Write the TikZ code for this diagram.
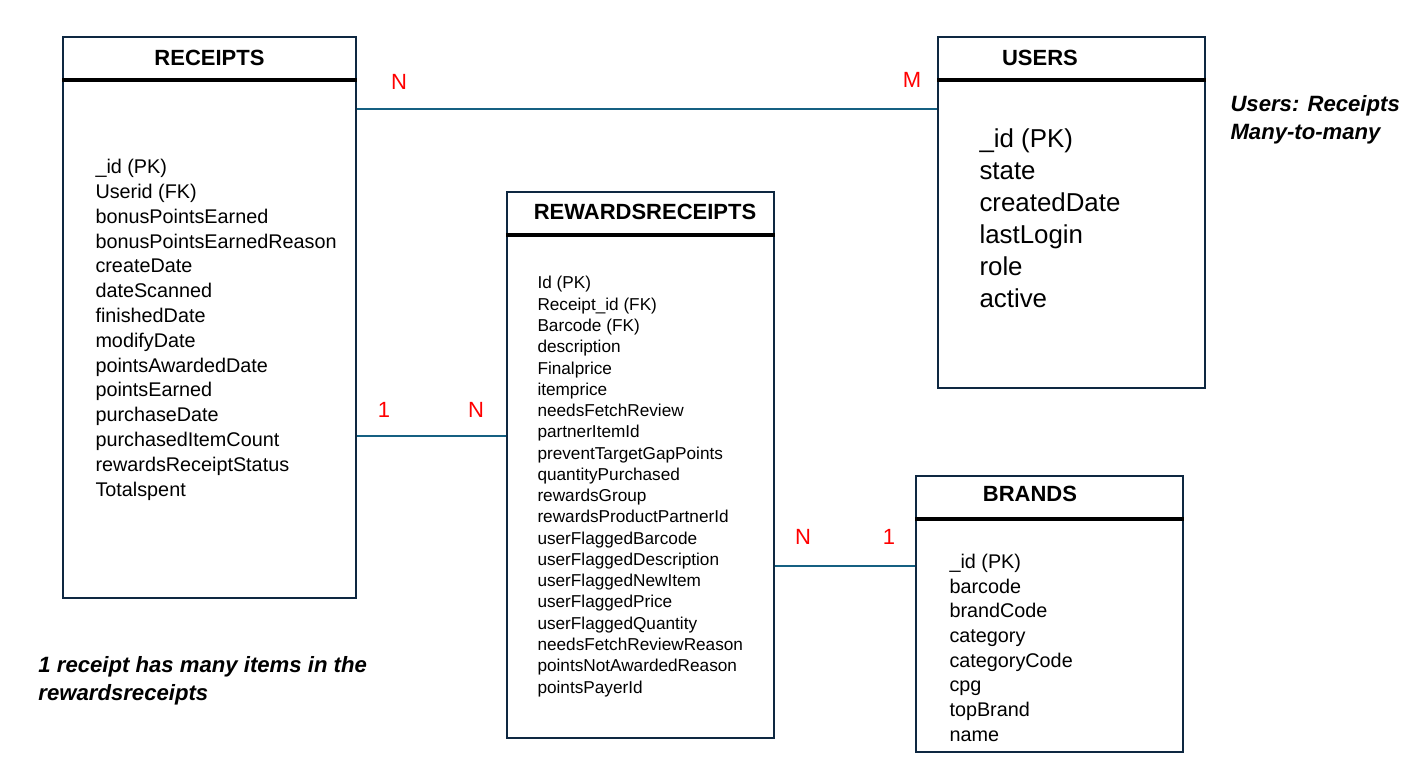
\documentclass[tikz,border=0pt]{standalone}
\usepackage{fontspec}
\setmainfont{Liberation Sans}
\usetikzlibrary{fit}
\definecolor{boxline}{HTML}{0E2841}
\definecolor{relline}{HTML}{156082}
\tikzset{every picture/.style={line width=0.75pt}}
\tikzset{
  entity/.style={draw=boxline, line width=1.5pt, inner sep=0pt},
  headline/.style={line width=3pt, black},
  relation/.style={draw=relline, line width=1.1pt},
  card/.style={text=red, inner sep=0pt, font=\fontsize{16.5}{19}\selectfont},
  title/.style={inner sep=0pt, font=\fontsize{16.5}{19}\selectfont\bfseries},
  fields/.style={anchor=base west, inner sep=0pt, align=left},
  remark/.style={anchor=base west, inner sep=0pt, align=left, font=\fontsize{16.6}{20.5}\selectfont\bfseries\itshape}
}

\begin{document}
\begin{tikzpicture}[x=0.75pt,y=0.75pt,yscale=-1,xscale=1]
\useasboundingbox (0,0) rectangle (1404,760);

% tables
\node [entity, fit={(63,37) (356,598)}] (receipts) {};
\node [entity, fit={(938,37) (1205,388)}] (users) {};
\node [entity, fit={(507,192) (774,738)}] (rewards) {};
\node [entity, fit={(916,476) (1183,752)}] (brands) {};

\draw [headline] (receipts.west |- 0,80) -- (receipts.east |- 0,80) ;
\draw [headline] (users.west |- 0,80) -- (users.east |- 0,80) ;
\draw [headline] (rewards.west |- 0,235) -- (rewards.east |- 0,235) ;
\draw [headline] (brands.west |- 0,519) -- (brands.east |- 0,519) ;

\node [title] (receiptsTitle) at (209.5,58) {RECEIPTS};
\node [title] (usersTitle) at (1040,58) {USERS};
\node [title] (rewardsTitle) at (645,212) {REWARDSRECEIPTS};
\node [title] (brandsTitle) at (1030,494) {BRANDS};

% attributes (placed by the baseline of the last line)
\node [fields, font=\fontsize{14.85}{18.6}\selectfont] (receiptsFields) at (95,496) {\_id (PK)\\Userid (FK)\\bonusPointsEarned\\bonusPointsEarnedReason\\createDate\\dateScanned\\finishedDate\\modifyDate\\pointsAwardedDate\\pointsEarned\\purchaseDate\\purchasedItemCount\\rewardsReceiptStatus\\Totalspent};
\node [fields, font=\fontsize{19.4}{23.9}\selectfont] (usersFields) at (979,307) {\_id (PK)\\state\\createdDate\\lastLogin\\role\\active};
\node [fields, font=\fontsize{12.9}{15.95}\selectfont] (rewardsFields) at (537,693) {Id (PK)\\Receipt\_id (FK)\\Barcode (FK)\\description\\Finalprice\\itemprice\\needsFetchReview\\partnerItemId\\preventTargetGapPoints\\quantityPurchased\\rewardsGroup\\rewardsProductPartnerId\\userFlaggedBarcode\\userFlaggedDescription\\userFlaggedNewItem\\userFlaggedPrice\\userFlaggedQuantity\\needsFetchReviewReason\\pointsNotAwardedReason\\pointsPayerId};
\node [fields, font=\fontsize{14.85}{18.5}\selectfont] (brandsFields) at (949,741) {\_id (PK)\\barcode\\brandCode\\category\\categoryCode\\cpg\\topBrand\\name};

% relationships
\draw [relation] (receipts.east |- 0,109) -- (users.west |- 0,109) ;
\draw [relation] (receipts.east |- 0,436) -- (rewards.west |- 0,436) ;
\draw [relation] (rewards.east |- 0,566) -- (brands.west |- 0,566) ;

\node [card] (cardRU1) at (399,82) {N};
\node [card] (cardRU2) at (912,80) {M};
\node [card] (cardRR1) at (384,410) {1};
\node [card] (cardRR2) at (476,410) {N};
\node [card] (cardRB1) at (803,537) {N};
\node [card] (cardRB2) at (889,537) {1};

% notes
\node [remark] (usersNote) at (1230,139) {Users: Receipts\\Many-to-many};
\node [remark] (receiptsNote) at (38,700) {1 receipt has many items in the\\rewardsreceipts};
\end{tikzpicture}
\end{document}
